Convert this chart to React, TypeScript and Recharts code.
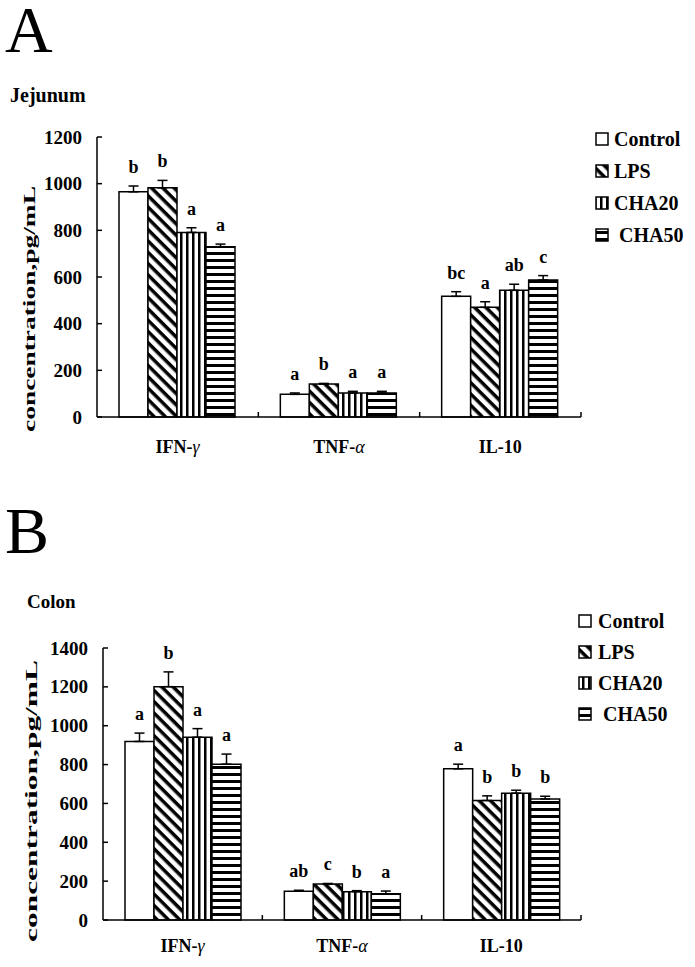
import React from 'react';
import { BarChart, Bar, XAxis, YAxis, ErrorBar, LabelList } from 'recharts';

const FONT = '"Liberation Serif", "Times New Roman", serif';

const categories = ['IFN-γ', 'TNF-α', 'IL-10'];
const seriesNames = ['Control', 'LPS', 'CHA20', ' CHA50'];

// Panel A — Jejunum
const jejControl = [965, 97, 517];
const jejControlErr = [25, 6, 20];
const jejLPS = [982, 141, 470];
const jejLPSErr = [32, 3, 24];
const jejCHA20 = [791, 103, 543];
const jejCHA20Err = [20, 7, 26];
const jejCHA50 = [730, 103, 587];
const jejCHA50Err = [11, 7, 19];
const jejControlLetters = ['b', 'a', 'bc'];
const jejLPSLetters = ['b', 'b', 'a'];
const jejCHA20Letters = ['a', 'a', 'ab'];
const jejCHA50Letters = ['a', 'a', 'c'];
const jejTicks = [0, 200, 400, 600, 800, 1000, 1200];

// Panel B — Colon
const colControl = [919, 148, 778];
const colControlErr = [43, 5, 24];
const colLPS = [1201, 185, 615];
const colLPSErr = [76, 3, 24];
const colCHA20 = [941, 146, 653];
const colCHA20Err = [44, 5, 15];
const colCHA50 = [802, 135, 623];
const colCHA50Err = [52, 14, 14];
const colControlLetters = ['a', 'ab', 'a'];
const colLPSLetters = ['b', 'c', 'b'];
const colCHA20Letters = ['a', 'b', 'b'];
const colCHA50Letters = ['a', 'a', 'b'];
const colTicks = [0, 200, 400, 600, 800, 1000, 1200, 1400];

const keys = ['control', 'lps', 'cha20', 'cha50'];
const fills = ['#ffffff', 'url(#pat-diag)', 'url(#pat-vert)', 'url(#pat-horiz)'];

function buildData(vals: number[][], errs: number[][], letters: string[][]) {
  return categories.map((c, i) => {
    const row: any = { name: c };
    keys.forEach((k, s) => {
      row[k] = vals[s][i];
      row[k + 'Err'] = [0, errs[s][i]];
      row[k + 'Letter'] = letters[s][i];
    });
    return row;
  });
}

const dataA = buildData(
  [jejControl, jejLPS, jejCHA20, jejCHA50],
  [jejControlErr, jejLPSErr, jejCHA20Err, jejCHA50Err],
  [jejControlLetters, jejLPSLetters, jejCHA20Letters, jejCHA50Letters]
);
const dataB = buildData(
  [colControl, colLPS, colCHA20, colCHA50],
  [colControlErr, colLPSErr, colCHA20Err, colCHA50Err],
  [colControlLetters, colLPSLetters, colCHA20Letters, colCHA50Letters]
);

const YTick = (props: any) => {
  const { x, y, payload } = props;
  const ax = Number(x) + 15;
  return (
    <g>
      <text x={x} y={y} textAnchor="end" dominantBaseline="central" fontFamily={FONT} fontWeight="bold" fontSize={19} fill="#000">
        {payload.value}
      </text>
      <line x1={ax} x2={ax + 5} y1={y} y2={y} stroke="#000" strokeWidth={1.5} />
    </g>
  );
};

const makeXTick = (dy: number) => (props: any) => {
  const { x, y, payload } = props;
  const v: string = String(payload.value);
  const m = v.match(/^(.*-)([γα])$/);
  const off = payload.offset;
  const bx = Number(x) + (typeof off === 'number' ? off : 0);
  return (
    <g>
      <text x={x} y={Number(y) + dy} textAnchor="middle" fontFamily={FONT} fontWeight="bold" fontSize={18} fill="#000">
        {m ? (
          <>
            <tspan>{m[1]}</tspan>
            <tspan fontStyle="italic" fontWeight="normal">{m[2]}</tspan>
          </>
        ) : (
          v
        )}
      </text>
      {typeof off === 'number' && (
        <line x1={bx} x2={bx} y1={y} y2={Number(y) - 5} stroke="#000" strokeWidth={1.5} />
      )}
    </g>
  );
};

const makeLetter = (vals: number[], errs: number[], gap: number) => (props: any) => {
  const { x, y, width, height, value, index } = props;
  const v = vals[index];
  const e = errs[index];
  const k = Number(height) / v;
  return (
    <text
      x={Number(x) + Number(width) / 2}
      y={Number(y) - e * k - gap}
      textAnchor="middle"
      fontFamily={FONT}
      fontWeight="bold"
      fontSize={18}
      fill="#000"
    >
      {value}
    </text>
  );
};

function Panel(p: {
  data: any[];
  vals: number[][];
  errs: number[][];
  ticks: number[];
  top: number;
  height: number;
  marginTop: number;
  yAxisWidth: number;
  xAxisHeight: number;
  xLabelDy: number;
}) {
  return (
    <div style={{ position: 'absolute', left: 0, top: p.top }}>
      <BarChart
        width={695}
        height={p.height}
        data={p.data}
        margin={{ top: p.marginTop, right: 114, left: 0, bottom: 0 }}
        barGap={0}
        barCategoryGap={22}
      >
        <XAxis
          dataKey="name"
          height={p.xAxisHeight}
          axisLine={{ stroke: '#000', strokeWidth: 1.5 }}
          tickLine={false}
          tickSize={0}
          tickMargin={0}
          interval={0}
          tick={makeXTick(p.xLabelDy)}
        />
        <YAxis
          width={p.yAxisWidth}
          domain={[0, p.ticks[p.ticks.length - 1]]}
          ticks={p.ticks}
          interval={0}
          axisLine={{ stroke: '#000', strokeWidth: 1.5 }}
          tickLine={false}
          tickSize={5}
          tickMargin={10}
          tick={YTick}
        />
        {keys.map((k, s) => (
          <Bar key={k} dataKey={k} fill={fills[s]} stroke="#000" strokeWidth={1.5} isAnimationActive={false}>
            <ErrorBar dataKey={k + 'Err'} direction="y" width={5} stroke="#000" strokeWidth={1.5} />
            <LabelList dataKey={k + 'Letter'} content={makeLetter(p.vals[s], p.errs[s], 13)} />
          </Bar>
        ))}
      </BarChart>
    </div>
  );
}

function LegendBlock({ sx, tx, y0, step }: { sx: number; tx: number; y0: number; step: number }) {
  return (
    <g>
      {seriesNames.map((n, i) => (
        <g key={n}>
          <rect x={sx} y={y0 + i * step - 6} width={12} height={12} fill={fills[i]} stroke="#000" strokeWidth={1.5} />
          <text
            x={tx}
            y={y0 + i * step}
            dominantBaseline="central"
            fontFamily={FONT}
            fontWeight="bold"
            fontSize={20}
            fill="#000"
            style={{ whiteSpace: 'pre' }}
          >
            {n}
          </text>
        </g>
      ))}
    </g>
  );
}

export default function App() {
  return (
    <div style={{ position: 'absolute', left: 0, top: 0, width: 695, height: 967, background: '#fff', overflow: 'hidden' }}>
      <Panel
        data={dataA}
        vals={[jejControl, jejLPS, jejCHA20, jejCHA50]}
        errs={[jejControlErr, jejLPSErr, jejCHA20Err, jejCHA50Err]}
        ticks={jejTicks}
        top={0}
        height={470}
        marginTop={137}
        yAxisWidth={97}
        xAxisHeight={53}
        xLabelDy={36}
      />
      <Panel
        data={dataB}
        vals={[colControl, colLPS, colCHA20, colCHA50]}
        errs={[colControlErr, colLPSErr, colCHA20Err, colCHA50Err]}
        ticks={colTicks}
        top={500}
        height={467}
        marginTop={148}
        yAxisWidth={103}
        xAxisHeight={47}
        xLabelDy={32}
      />
      <svg width={695} height={967} style={{ position: 'absolute', left: 0, top: 0, pointerEvents: 'none' }}>
        <defs>
          <pattern id="pat-diag" patternUnits="userSpaceOnUse" width={8} height={8} patternTransform="rotate(45)">
            <rect width={8} height={8} fill="#fff" />
            <rect width={8} height={3.5} fill="#000" />
          </pattern>
          <pattern id="pat-vert" patternUnits="userSpaceOnUse" width={6} height={6}>
            <rect width={6} height={6} fill="#fff" />
            <rect width={2.5} height={6} fill="#000" />
          </pattern>
          <pattern id="pat-horiz" patternUnits="userSpaceOnUse" width={7} height={7}>
            <rect width={7} height={7} fill="#fff" />
            <rect width={7} height={3} fill="#000" />
          </pattern>
        </defs>
        <text x={5} y={52} fontFamily={FONT} fontSize={66} fill="#000">A</text>
        <text x={5} y={553} fontFamily={FONT} fontSize={66} fill="#000">B</text>
        <text x={10} y={102} fontFamily={FONT} fontWeight="bold" fontSize={20} fill="#000">Jejunum</text>
        <text x={27} y={608} fontFamily={FONT} fontWeight="bold" fontSize={19} fill="#000">Colon</text>
        <text
          transform="translate(29,309) rotate(-90)"
          textAnchor="middle"
          dominantBaseline="central"
          fontFamily={FONT}
          fontWeight="bold"
          fontSize={17}
          textLength={246}
          lengthAdjust="spacingAndGlyphs"
          fill="#000"
        >
          concentration,pg/mL
        </text>
        <text
          transform="translate(31,801) rotate(-90)"
          textAnchor="middle"
          dominantBaseline="central"
          fontFamily={FONT}
          fontWeight="bold"
          fontSize={17}
          textLength={282}
          lengthAdjust="spacingAndGlyphs"
          fill="#000"
        >
          concentration,pg/mL
        </text>
        <LegendBlock sx={596} tx={614} y0={139} step={32} />
        <LegendBlock sx={579} tx={598} y0={621} step={31} />
      </svg>
    </div>
  );
}
